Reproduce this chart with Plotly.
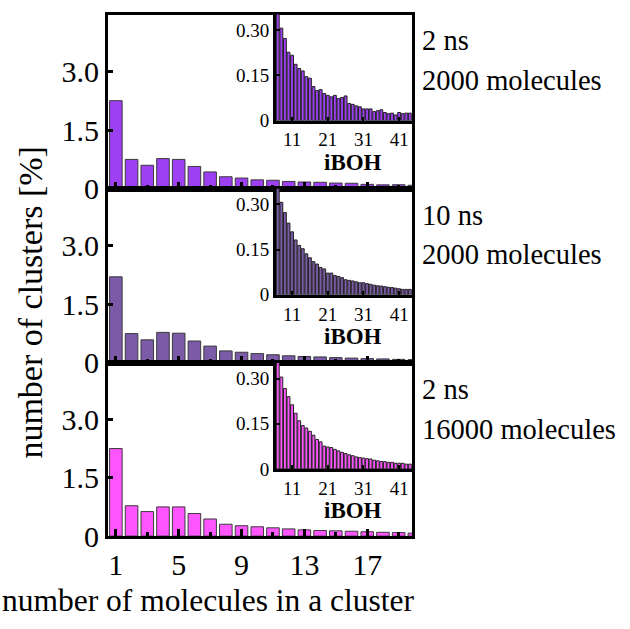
import plotly.graph_objects as go

W, H = 630, 629

# cluster size (number of molecules) and cluster share in percent
sizes = list(range(1, 45))

pct_2ns_2000 = [2.25, 0.75, 0.60, 0.77, 0.75, 0.57, 0.43, 0.307, 0.273, 0.227,
                0.217, 0.187, 0.173, 0.165, 0.146, 0.141, 0.113, 0.100, 0.103, 0.090,
                0.084, 0.079, 0.084, 0.073, 0.077, 0.082, 0.057, 0.054, 0.049, 0.046,
                0.039, 0.039, 0.039, 0.030, 0.033, 0.036, 0.027, 0.023, 0.025, 0.019,
                0.027, 0.023, 0.025, 0.025]

pct_10ns_2000 = [2.20, 0.75, 0.59, 0.78, 0.76, 0.56, 0.43, 0.307, 0.273, 0.238,
                 0.209, 0.182, 0.164, 0.153, 0.136, 0.123, 0.110, 0.102, 0.091, 0.086,
                 0.072, 0.072, 0.064, 0.061, 0.057, 0.050, 0.048, 0.046, 0.043, 0.040,
                 0.040, 0.037, 0.035, 0.032, 0.030, 0.029, 0.027, 0.025, 0.024, 0.022,
                 0.020, 0.018, 0.018, 0.018]

pct_2ns_16000 = [2.25, 0.78, 0.63, 0.75, 0.75, 0.58, 0.44, 0.305, 0.267, 0.240,
                 0.213, 0.185, 0.160, 0.144, 0.136, 0.125, 0.112, 0.098, 0.090, 0.076,
                 0.073, 0.071, 0.065, 0.060, 0.055, 0.051, 0.047, 0.044, 0.040, 0.038,
                 0.036, 0.034, 0.033, 0.029, 0.027, 0.025, 0.024, 0.022, 0.022, 0.019,
                 0.019, 0.019, 0.016, 0.016]

series = [pct_2ns_2000, pct_10ns_2000, pct_2ns_16000]
colors = ["#9d3ff2", "#7b5aa8", "#ff55ff"]
run_labels = [("2 ns", "2000 molecules"), ("10 ns", "2000 molecules"),
              ("2 ns", "16000 molecules")]

main_xticks = [1, 5, 9, 13, 17]
main_xminor = [3, 7, 11, 15, 19]
main_yticks = [0, 1.5, 3.0]
main_yticktext = ["0", "1.5", "3.0"]
inset_xticks = [11, 21, 31, 41]
inset_yticks = [0, 0.15, 0.30]
inset_yticktext = ["0", "0.15", "0.30"]
inset_xlabel = "iBOH"
x_title = "number of molecules in a cluster"
y_title = "number of clusters [%]"

FONT = "Liberation Serif, Times New Roman, serif"


def px_x(p):
    return p / W


def px_y(p):
    return 1 - p / H


# panel geometry in pixels (top, bottom)
panels = [(15, 194), (194, 373), (373, 551)]
main_left, main_right = 108, 412
inset_left, inset_right = 276, 412
inset_height = 109

fig = go.Figure()
layout = dict(
    width=W, height=H, margin=dict(l=0, r=0, t=0, b=0),
    paper_bgcolor="white", plot_bgcolor="rgba(0,0,0,0)",
    showlegend=False, bargap=0.2,
    font=dict(family=FONT, color="black"),
)

annotations = []
for i, (vals, col, labels) in enumerate(zip(series, colors, run_labels)):
    top, bot = panels[i]
    mx, my = 2 * i + 1, 2 * i + 1
    ix, iy = 2 * i + 2, 2 * i + 2
    mxn = "x" if mx == 1 else f"x{mx}"
    myn = "y" if my == 1 else f"y{my}"
    ixn, iyn = f"x{ix}", f"y{iy}"

    main_sizes = sizes[:20]
    main_vals = vals[:20]
    fig.add_trace(go.Bar(
        x=main_sizes, y=main_vals, xaxis=mxn, yaxis=myn, width=0.8,
        marker=dict(color=col, line=dict(color="#3a3a3a", width=1)),
    ))
    inset_sizes = sizes[6:]
    inset_vals = vals[6:]
    fig.add_trace(go.Bar(
        x=inset_sizes, y=inset_vals, xaxis=ixn, yaxis=iyn, width=0.8,
        marker=dict(color=col, line=dict(color="#222222", width=1)),
    ))

    last = i == len(series) - 1
    layout[f"xaxis{mx}" if mx > 1 else "xaxis"] = dict(
        domain=[px_x(main_left), px_x(main_right)], anchor=myn,
        range=[0.5, 19.85], showgrid=False, zeroline=False,
        showline=True, linewidth=3, linecolor="black", mirror=True,
        tickvals=main_xticks, ticks="inside", ticklen=7, tickwidth=3,
        tickcolor="black", showticklabels=last,
        tickfont=dict(size=30, family=FONT),
        minor=dict(tickvals=main_xminor, ticks="inside", ticklen=4,
                   tickwidth=3, tickcolor="black"),
    )
    layout[f"yaxis{my}" if my > 1 else "yaxis"] = dict(
        domain=[px_y(bot), px_y(top)], anchor=mxn,
        range=[0, 4.45], showgrid=False, zeroline=False,
        showline=True, linewidth=3, linecolor="black", mirror=True,
        tickvals=main_yticks, ticktext=main_yticktext,
        ticks="inside", ticklen=5, tickwidth=3, tickcolor="black",
        tickfont=dict(size=30, family=FONT),
    )
    layout[f"xaxis{ix}"] = dict(
        domain=[px_x(inset_left), px_x(inset_right)], anchor=iyn,
        range=[6.5, 44.6], showgrid=False, zeroline=False,
        showline=True, linewidth=3, linecolor="black",
        tickvals=inset_xticks, ticks="inside", ticklen=4, tickwidth=2,
        tickcolor="black", tickfont=dict(size=19, family=FONT),
    )
    layout[f"yaxis{iy}"] = dict(
        domain=[px_y(top + inset_height), px_y(top)], anchor=ixn,
        range=[0, 0.352], showgrid=False, zeroline=False,
        showline=True, linewidth=3, linecolor="black",
        tickvals=inset_yticks, ticktext=inset_yticktext,
        ticks="inside", ticklen=4, tickwidth=2, tickcolor="black",
        tickfont=dict(size=19, family=FONT),
    )

    # inset axis label
    annotations.append(dict(
        text=f"<b>{inset_xlabel}</b>", xref="paper", yref="paper",
        x=px_x(353), y=px_y(top + 152), xanchor="center", yanchor="middle",
        showarrow=False, font=dict(size=23, family=FONT),
    ))
    # run description to the right of each panel
    annotations.append(dict(
        text=labels[0], xref="paper", yref="paper",
        x=px_x(420), y=px_y(top + 27), xanchor="left", yanchor="middle",
        showarrow=False, font=dict(size=28.5, family=FONT),
    ))
    annotations.append(dict(
        text=labels[1], xref="paper", yref="paper",
        x=px_x(420), y=px_y(top + 68), xanchor="left", yanchor="middle",
        showarrow=False, font=dict(size=28.5, family=FONT),
    ))

annotations.append(dict(
    text=y_title, xref="paper", yref="paper", x=px_x(31), y=px_y(311),
    xanchor="center", yanchor="middle", textangle=-90, showarrow=False,
    font=dict(size=34, family=FONT),
))
annotations.append(dict(
    text=x_title, xref="paper", yref="paper", x=px_x(208), y=px_y(617),
    xanchor="center", yanchor="middle", showarrow=False,
    font=dict(size=31.5, family=FONT),
))
layout["annotations"] = annotations

fig.update_layout(**layout)
fig.write_html("out.html")
